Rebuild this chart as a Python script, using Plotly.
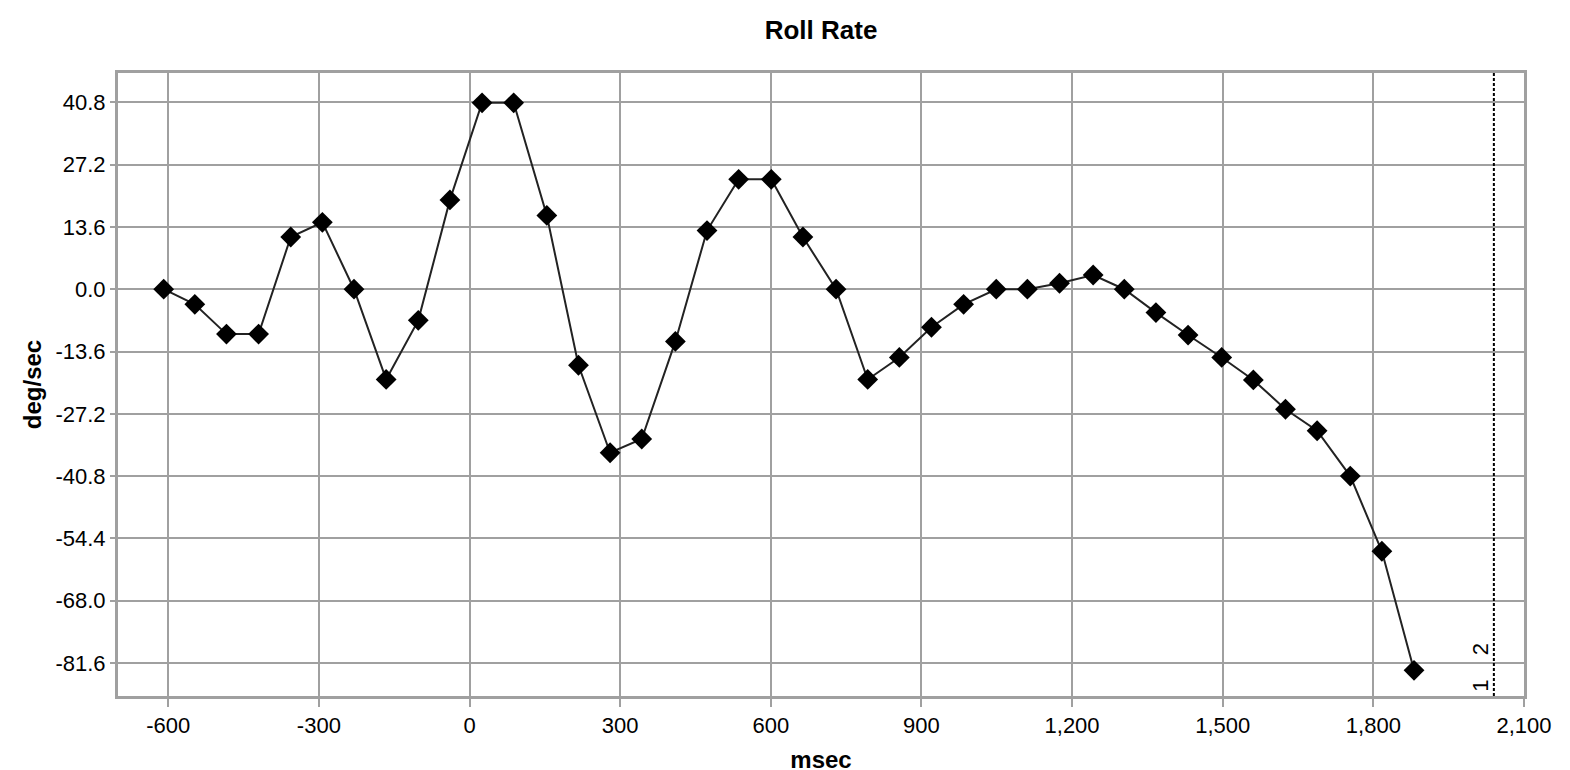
import plotly.graph_objects as go

# ---- data ----
time_ms = [-609, -547, -484, -420, -356, -293, -230, -166, -102, -39,
           25, 88, 154, 217, 280, 343, 410, 473, 536, 601,
           664, 730, 793, 856, 920, 984, 1049, 1111, 1175, 1242,
           1304, 1367, 1431, 1498, 1561, 1625, 1688, 1754, 1817, 1881]
roll_rate = [0.0, -3.3, -9.8, -9.8, 11.4, 14.6, 0.0, -19.7, -6.8, 19.5,
             40.7, 40.7, 16.1, -16.6, -35.7, -32.7, -11.4, 12.8, 24.0, 24.0,
             11.4, 0.0, -19.7, -14.9, -8.3, -3.3, 0.0, 0.0, 1.3, 3.1,
             0.0, -5.1, -10.0, -14.9, -19.8, -26.2, -30.9, -40.8, -57.2, -83.2]

x_ticks = [-600, -300, 0, 300, 600, 900, 1200, 1500, 1800, 2100]
y_ticks = [40.8, 27.2, 13.6, 0.0, -13.6, -27.2, -40.8, -54.4, -68.0, -81.6]

event_x = [2040]
event_labels = ["1\u00a0\u00a0\u00a0\u00a02"]

x_ticktext = [f"{v:,d}" for v in x_ticks]
y_ticktext = [f"{v:.1f}" for v in y_ticks]

FONT = "Liberation Sans, Arial, sans-serif"
GRID = "#A0A0A0"

fig = go.Figure()
fig.add_trace(go.Scatter(
    x=time_ms, y=roll_rate, mode="lines+markers",
    line=dict(color="#222222", width=2),
    marker=dict(symbol="diamond", size=16, color="#000000",
                line=dict(width=0)),
    showlegend=False,
))

for ex, lab in zip(event_x, event_labels):
    fig.add_shape(type="line", xref="x", yref="paper", x0=ex, x1=ex, y0=0, y1=1,
                  line=dict(color="#000000", width=2, dash="3px,2px"))
    fig.add_annotation(x=ex, xref="x", y=0, yref="paper", text=lab,
                       textangle=-90, showarrow=False, xanchor="right",
                       yanchor="bottom", xshift=1, yshift=2,
                       font=dict(family=FONT, size=22, color="#000000"))

fig.update_layout(
    width=1570, height=770,
    margin=dict(l=110, r=54, t=65, b=82, autoexpand=False),
    paper_bgcolor="white", plot_bgcolor="white",
    font=dict(family=FONT, size=22, color="#000000"),
    title=dict(text="<b>Roll Rate</b>", x=0.5, xref="paper", xanchor="center",
               y=1 - 22 / 770, yref="container", yanchor="middle",
               font=dict(family=FONT, size=26, color="#000000")),
)
fig.update_xaxes(
    range=[-700, 2100], tickmode="array", tickvals=x_ticks, ticktext=x_ticktext,
    showgrid=True, gridcolor=GRID, gridwidth=2,
    showline=True, linecolor=GRID, linewidth=3, mirror=True,
    ticks="outside", ticklen=8, tickwidth=2, tickcolor=GRID,
    zeroline=False, automargin=False,
    title=dict(text="<b>msec</b>", standoff=14,
               font=dict(family=FONT, size=24, color="#000000")),
    tickfont=dict(family=FONT, size=22, color="#000000"),
)
fig.update_yaxes(
    range=[-88.8, 47.2], tickmode="array", tickvals=y_ticks, ticktext=y_ticktext,
    showgrid=True, gridcolor=GRID, gridwidth=2,
    showline=True, linecolor=GRID, linewidth=3, mirror=True,
    ticks="outside", ticklen=5, tickwidth=2, tickcolor=GRID,
    zeroline=False, automargin=False,
    title=dict(text="<b>deg/sec</b>", standoff=8,
               font=dict(family=FONT, size=24, color="#000000")),
    tickfont=dict(family=FONT, size=22, color="#000000"),
)

fig.write_html("out.html")
